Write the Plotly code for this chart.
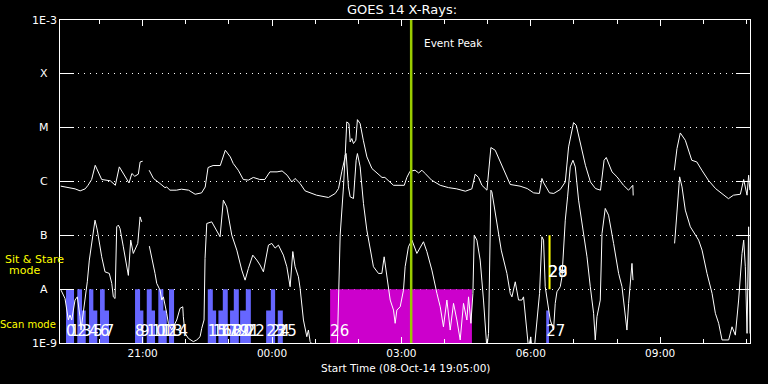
import numpy as np
import pandas as pd
import plotly.graph_objects as go

# ---------------- data ----------------
START = pd.Timestamp("2014-10-08 19:05:00")
END_MIN = 960                 # minutes shown after start
EVENT_PEAK_MIN = 488.6        # minutes after start

# long channel (1-8 A), minutes after start / flux W m^-2 (None = data gap)
LONG_MIN = [1, 21, 28, 35, 39, 44, 49, 58, 70, 77, 82.5, 90.5, 96, 100, 104, 109, 111.5, 115, 116,
            124, 130, 139, 146, 148.5, 153, 162, 169, 179, 188, 197, 202, 206, 213, 223, 230, 237,
            241, 248, 255, 262, 269, 278, 285, 292, 302, 309, 316, 322.5, 327, 334, 341, 357, 373.5,
            383, 387.5, 392, 396.7, 399, 402, 403.7, 406, 408.3, 411.6, 413.8, 417.6, 422, 427, 434,
            448, 452, 464, 479, 482.6, 487, 494, 499, 503.5, 508, 517, 529, 540.5, 552, 564, 573,
            577.7, 582.3, 587, 594, 599.5, 605.5, 612.5, 619.4, 626.4, 640, 650, 659, 667, 670.5,
            673, 681, 687, 696, 703, 707.6, 714.5, 718.3, 724, 731, 738, 745, 752, 757, 760, 768,
            775, 784, 791, 797, 797.5, 800,
            854.7, 858.4, 863, 870, 879, 886, 893, 902, 912, 930, 937, 946.6, 951.2, 955.9, 958.1,
            959.8]
LONG_FLUX = [8.2e-7, 7.3e-7, 6.7e-7, 7.3e-7, 8.5e-7, 1.09e-6, 2.0e-6, 1.09e-6, 1.03e-6, 8.5e-7,
             1.87e-6, 1.22e-6, 9.4e-7, 1.41e-6, 1.25e-6, 1.37e-6, 2.31e-6, 2.38e-6, None,
             1.62e-6, 1.14e-6, 9.2e-7, 7.7e-7, 7.9e-7, 6.9e-7, 6.9e-7, 7.2e-7, 6.9e-7, 5.8e-7,
             6.15e-7, 7.9e-7, 1.82e-6, 1.98e-6, 1.98e-6, 3.81e-6, 2.86e-6, 2.16e-6, 1.62e-6,
             1.09e-6, 1.06e-6, 1.19e-6, 1.09e-6, 1.09e-6, 1.51e-6, 1.51e-6, 1.57e-6, 1.31e-6,
             9.8e-7, 1.14e-6, 9.2e-7, 6.7e-7, 5.57e-7, 5.05e-7, 6.0e-7, 7.4e-7, 1.51e-6, 2.86e-6,
             1.28e-5, 1.19e-5, 5.43e-6, 6.28e-6, 5.07e-6, 5.84e-6, 1.41e-5, 1.19e-5, 5.84e-6,
             2.86e-6, 1.74e-6, 1.19e-6, 1.19e-6, 8.5e-7, 8.5e-7, 1.19e-6, 1.55e-6, 1.62e-6,
             1.44e-6, 1.62e-6, 1.41e-6, 1.06e-6, 8.5e-7, 7.7e-7, 7.3e-7, 6.6e-7, 7.3e-7, 1.37e-6,
             1.19e-6, 8.5e-7, 6.9e-7, 4.27e-6, 3.81e-6, 2.31e-6, 1.41e-6, 8.8e-7, 8.2e-7, 7.4e-7,
             6.15e-7, 6.0e-7, 1.14e-6, 9.4e-7, 6.15e-7, 6.0e-7, 7.1e-7, 9.8e-7, 4.39e-6, 1.24e-5,
             1.11e-5, 5.43e-6, 2.0e-6, 9.8e-7, 7.4e-7, 6.9e-7, 2.48e-6, 2.79e-6, 1.51e-6, 1.22e-6,
             8.5e-7, 6.9e-7, 8.5e-7, 5.5e-7, None,
             1.62e-6, 4.09e-6, 7.98e-6, 5.84e-6, 2.48e-6, 2.31e-6, 1.62e-6, 1.06e-6, 7.4e-7,
             4.8e-7, 5.57e-7, 5.8e-7, 1.09e-6, 5.57e-7, 1.31e-6, 6.9e-7]

# short channel (0.5-4 A)
SHORT_MIN = [1.4, 7, 11.6, 13.9, 16.3, 20.9, 24.1, 27.8, 29.2, 34.8, 38, 40.8, 45, 48.7, 51.9, 58,
             62.6, 68.6, 72, 74.2, 76.6, 78.9, 81.2, 83.5, 88.1, 92.8, 95.1, 98.4, 102, 108.2, 111.4,
             113.7, 116,
             124.3, 127.6, 132.2, 134.6, 139.2, 141.6, 143.8, 148.5, 150.8, 155.5, 157.7, 162.4, 167,
             170.8, 171.6, 174, 178.6, 185.5, 190.3, 194.9, 197.2, 200.4, 201.8, 204.2, 211.1,
             215.8, 222.7, 227.3, 232, 239, 246, 252.9, 257.5, 262.1, 268.2, 273.8, 278.4, 283,
             290, 294.7, 299.3, 303.9, 310.8, 315.6, 320.2, 323.9, 327.1, 331.7, 334.1, 338.7,
             343.4, 345.6, 348, 355, 382.8, 386, 389.8, 394.4, 396.7, 398.1, 399.9, 401.3, 403.7,
             408.3, 412, 413.8, 417.6, 422.2, 426.9, 431.5, 436.1, 443.1, 447.8, 451, 454.8, 459.4,
             464, 466.3, 468.7, 473.3, 477.9, 480.2, 484.8, 489.6, 496.5, 501.1, 505.7, 510.4,
             517.4, 524.4, 529, 533.5, 538.3, 542.9, 547.5, 552.2, 556.8, 561.4, 566.1, 568.4,
             571.7, 574.5, 576.3, 580, 584.6, 589.2, 593.9, 596.2, 599.5, 600.9, 606.8, 613.9,
             621.8, 626.4, 628.8, 633.4, 638, 642.7, 644.9, 651.9, 655, 656.5, 660, 667.2, 670.5,
             672.8, 675.1, 677.5, 682.1, 686.7, 689, 691.4, 696, 698.4, 703, 706.2, 709.9, 713.7,
             716.9, 721.5, 726.2, 733.2, 737.8, 742.4, 744.7, 747.1, 751.7, 754.1, 758.6, 763.2,
             770.2, 777.2, 781.9, 788.8, 791.1, 795.8, 797.2, 800,
             855.1, 858.4, 862.1, 865.4, 870, 877, 881.6, 888.5, 893.3, 900.2, 907.2, 911.8, 916.4,
             921.1, 930.3, 935, 939.6, 944.2, 948.9, 951.2, 953.5, 955.9, 958.1, 960]
SHORT_FLUX = [9.6e-9, 6.7e-9, 2.67e-9, 3.31e-9, 2.67e-9, 6.28e-9, 7.2e-9, 3.08e-9, 1.74e-9, 6.28e-9,
              1.37e-8, 3.47e-8, 8.15e-8, 1.91e-7, 1.25e-7, 3.99e-8, 2.1e-8, 1.96e-8, 1.28e-8,
              7.2e-9, 6.7e-9, 1.44e-7, 1.55e-7, 1.34e-7, 6.12e-8, 2.43e-8, 1.8e-8, 8.15e-8,
              4.61e-8, 7.08e-8, 2.2e-7, 1.78e-7, None,
              6.3e-8, 3.99e-8, 1.96e-8, 1.28e-8, 9.6e-9, 6.28e-9, 7.2e-9, 3.56e-9, 2.32e-9,
              1.74e-9, 2.0e-9, 2.67e-9, 4.4e-9, 4.71e-9, 3.08e-9, 1.51e-9, 1.22e-9, 1.06e-9,
              1.14e-9, 1.31e-9, 1.87e-9, 2.67e-9, 3.73e-8, 1.66e-7, 1.78e-7, 1.34e-7, 9.4e-8,
              4.5e-7, 3.38e-7, 1.01e-7, 5.31e-8, 2.26e-8, 1.47e-8, 2.43e-8, 4.29e-8, 3.47e-8,
              2.8e-8, 2.1e-8, 6.58e-8, 7.08e-8, 5.8e-8, 6.58e-8, 4.29e-8, 2.61e-8, 1.11e-8, 5.0e-8,
              2.61e-8, 1.7e-8, 1.03e-8, 2.67e-9, 1.31e-9, 1.74e-9, 1.06e-9, 8e-10, 8e-10, 1.06e-9,
              1.01e-7, 7.94e-7, 3.08e-6, 3.31e-6, 1.22e-6, 7.94e-7, 5.18e-7, 4.84e-7, 2.48e-6,
              3.31e-6, 1.87e-6, 3.91e-7, 1.25e-7, 5.31e-8, 2.61e-8, 1.96e-8, 1.96e-8, 3.99e-8,
              1.7e-8, 6.28e-9, 4.09e-9, 2.32e-9, 4.09e-9, 4.71e-9, 9.6e-9, 2.61e-8, 6.12e-8,
              8.15e-8, 4.61e-8, 6.12e-8, 7.6e-8, 5.0e-8, 2.26e-8, 8.36e-9, 4.71e-9, 2.0e-9,
              6.28e-9, 1.74e-9, 5.45e-9, 2.67e-9, 1.14e-9, 5.45e-9, 2.67e-9, 7.2e-9, 2.32e-9,
              8.36e-9, 1.01e-7, 8.15e-8, 3.47e-8, 6.28e-9, 8e-10, 1.5e-9, 6.9e-7, 6.41e-7,
              1.91e-7, 5.31e-8, 1.96e-8, 8.36e-9, 7.2e-9, 1.37e-8, 6.28e-9, 6.28e-9, 7.2e-9,
              8e-10, 1.3e-9, 8e-10, 8e-10, 8.36e-9, 9.4e-8, 8.15e-8, 1.11e-8, 7.2e-9, 2.67e-9,
              1.74e-9, 5.45e-9, 8.95e-9, 1.11e-8, 1.7e-8, 1.91e-7, 5.18e-7, 1.87e-6, 2.48e-6,
              1.87e-6, 4.5e-7, 1.66e-7, 3.99e-8, 1.11e-8, 3.56e-9, 1.14e-9, 3.08e-9, 6.28e-9,
              1.08e-7, 3.16e-7, 2.37e-7, 7.08e-8, 1.96e-8, 1.11e-8, 1.74e-9, 5.45e-9, 3.01e-8,
              1.47e-8, None,
              7.08e-8, 2.94e-7, 1.22e-6, 7.94e-7, 2.94e-7, 1.44e-7, 1.16e-7, 8.15e-8, 5.31e-8,
              1.96e-8, 8.36e-9, 3.56e-9, 2.32e-9, 1.14e-9, 1.14e-9, 2.0e-9, 1.4e-9, 6.28e-9,
              4.61e-8, 8.15e-8, 2.61e-8, 1.51e-9, 1.44e-7, 1.5e-9]

# scan-mode observations (label, start/end minutes, top flux)
SCAN_LABEL = [str(i) for i in range(26)] + ["27"]
SCAN_START = [8.4, 13.9, 24.1, 30.6, 40.4, 46.4, 55.7, 62.2,
              104.4, 111.4, 120.7, 127.6, 136.8, 143.8, 151.7,
              205.6, 212.6, 220.4, 226.5, 236.6, 241.8, 250.6, 258.5,
              286.8, 293.3, 303.0, 676.5]
SCAN_END = [13.9, 19.5, 30.6, 35.8, 46.4, 51.9, 62.2, 68.2,
            111.4, 116.0, 127.6, 132.2, 143.8, 148.5, 158.7,
            212.6, 217.2, 226.5, 233.4, 241.8, 248.8, 258.5, 265.5,
            293.3, 299.3, 310.0, 680.3]
SCAN_TOP = [1e-8, 1e-8, 1e-8, 4e-9, 1e-8, 4e-9, 1e-8, 4e-9,
            1e-8, 4e-9, 1e-8, 4e-9, 1e-8, 4e-9, 1e-8,
            1e-8, 4e-9, 4e-9, 1e-8, 4e-9, 1e-8, 4e-9, 1e-8,
            4e-9, 1e-8, 4e-9, 4e-9]

LONG_SCAN_LABEL = ["26"]
LONG_SCAN_START = [375.8]
LONG_SCAN_END = [573.1]
LONG_SCAN_TOP = [1e-8]

SIT_LABEL = ["28", "29"]
SIT_START = [679.7, 679.7]
SIT_END = [682.5, 682.5]
SIT_BOTTOM = [1e-8, 1e-8]
SIT_TOP = [1e-7, 1e-7]

FLOOR = 1e-9
SCAN_TEXT_Y = 1.6e-9
SIT_TEXT_Y = 2.0e-8

Y_TICK_VALS = [1e-9, 1e-8, 1e-7, 1e-6, 1e-5, 1e-4, 1e-3]
Y_TICK_TEXT = ["1E-9", "A", "B", "C", "M", "X", "1E-3"]


def t(m):
    if m is None:
        return None
    return START + pd.to_timedelta(m, unit="m")


def rects(starts, ends, bottoms, tops):
    xs, ys = [], []
    for s, e, b, tp in zip(starts, ends, bottoms, tops):
        xs += [t(s), t(s), t(e), t(e), t(s), None]
        ys += [b, tp, tp, b, b, None]
    return xs, ys


FONT = "DejaVu Sans"
fig = go.Figure()

bx, by = rects(SCAN_START, SCAN_END, [FLOOR] * len(SCAN_START), SCAN_TOP)
fig.add_trace(go.Scatter(x=bx, y=by, fill="toself", fillcolor="#6666ff", mode="lines",
                         line=dict(width=0, color="#6666ff"), hoverinfo="skip"))
mx, my = rects(LONG_SCAN_START, LONG_SCAN_END, [FLOOR], LONG_SCAN_TOP)
fig.add_trace(go.Scatter(x=mx, y=my, fill="toself", fillcolor="#cc00cc", mode="lines",
                         line=dict(width=0, color="#cc00cc"), hoverinfo="skip"))
sx, sy = rects(SIT_START, SIT_END, SIT_BOTTOM, SIT_TOP)
fig.add_trace(go.Scatter(x=sx, y=sy, fill="toself", fillcolor="#ffff00", mode="lines",
                         line=dict(width=0, color="#ffff00"), hoverinfo="skip"))

fig.add_trace(go.Scatter(x=[t(m) for m in LONG_MIN], y=LONG_FLUX, mode="lines",
                         line=dict(color="white", width=1), connectgaps=False))
fig.add_trace(go.Scatter(x=[t(m) for m in SHORT_MIN], y=SHORT_FLUX, mode="lines",
                         line=dict(color="white", width=1), connectgaps=False))

lab_x = [t(s) for s in SCAN_START + LONG_SCAN_START]
fig.add_trace(go.Scatter(x=lab_x, y=[SCAN_TEXT_Y] * len(lab_x), mode="text",
                         text=SCAN_LABEL + LONG_SCAN_LABEL, textposition="middle right",
                         textfont=dict(family=FONT, size=15, color="white")))
fig.add_trace(go.Scatter(x=[t(s) for s in SIT_START], y=[SIT_TEXT_Y] * len(SIT_START),
                         mode="text", text=SIT_LABEL, textposition="middle right",
                         textfont=dict(family=FONT, size=15, color="white")))

fig.add_shape(type="line", xref="x", yref="paper", x0=t(EVENT_PEAK_MIN), x1=t(EVENT_PEAK_MIN),
              y0=0, y1=1, line=dict(color="#99cc00", width=2.5), layer="above")

ann = []
for v, txt in zip(Y_TICK_VALS, Y_TICK_TEXT):
    ann.append(dict(xref="paper", yref="y", x=-0.0225, y=np.log10(v), text=txt, showarrow=False,
                    xanchor="center", yanchor="middle", font=dict(family=FONT, size=11, color="white")))
ann.append(dict(xref="paper", yref="paper", x=0.4957, y=1.031, text="GOES 14 X-Rays:",
                showarrow=False, xanchor="center", yanchor="middle",
                font=dict(family=FONT, size=13, color="white")))
ann.append(dict(xref="paper", yref="paper", x=0.5004, y=-0.0765,
                text="Start Time (08-Oct-14 19:05:00)", showarrow=False, xanchor="center",
                yanchor="middle", font=dict(family=FONT, size=10.5, color="white")))
ann.append(dict(xref="x", yref="paper", x=t(EVENT_PEAK_MIN + 15), y=0.929, text="Event Peak",
                showarrow=False, xanchor="left", yanchor="middle",
                font=dict(family=FONT, size=10.5, color="white")))
ann.append(dict(xref="paper", yref="paper", x=-0.0374, y=0.260, text="Sit & Stare",
                showarrow=False, xanchor="center", yanchor="middle",
                font=dict(family=FONT, size=11, color="#ffff00")))
ann.append(dict(xref="paper", yref="paper", x=-0.0517, y=0.223, text="mode",
                showarrow=False, xanchor="center", yanchor="middle",
                font=dict(family=FONT, size=11, color="#ffff00")))
ann.append(dict(xref="paper", yref="paper", x=-0.0458, y=0.0588, text="Scan mode",
                showarrow=False, xanchor="center", yanchor="middle",
                font=dict(family=FONT, size=10, color="#ffff00")))

fig.update_layout(
    width=768, height=384,
    margin=dict(l=60, r=18, t=20, b=41, autoexpand=False),
    paper_bgcolor="black", plot_bgcolor="black",
    showlegend=False,
    annotations=ann,
    font=dict(family=FONT, color="white"),
    xaxis=dict(type="date", range=[t(0), t(END_MIN)], showgrid=False, zeroline=False,
               automargin=False,
               showline=True, linecolor="white", linewidth=1, mirror="ticks",
               ticks="inside", ticklen=6, tickcolor="white", tickwidth=1,
               tick0="2014-10-08 21:00:00", dtick=3 * 3600000, tickformat="%H:%M",
               tickfont=dict(family=FONT, size=10.5, color="white"),
               minor=dict(ticks="inside", ticklen=4, tickcolor="white", tickwidth=1,
                          dtick=3600000, tick0="2014-10-08 21:00:00", showgrid=False)),
    yaxis=dict(type="log", range=[-9, -3], tickvals=Y_TICK_VALS, showticklabels=False,
               automargin=False,
               showline=True, linecolor="white", linewidth=1, mirror="ticks",
               ticks="inside", ticklen=14, tickcolor="white", tickwidth=1,
               showgrid=True, gridcolor="white", gridwidth=1, griddash="1px,5px",
               zeroline=False),
)

fig.write_html("out.html", config={"displayModeBar": False},
               post_script="document.body.style.margin='0';document.body.style.background='black';")
